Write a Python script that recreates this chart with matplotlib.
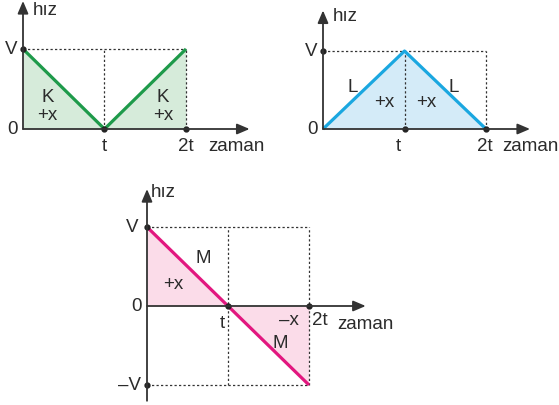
import matplotlib.pyplot as plt

plt.rcParams['font.family'] = ['Liberation Sans', 'DejaVu Sans']

# time points (in units of t) and velocities (in units of V)
times = [0, 1, 2]
speed_K = [1, 0, 1]
speed_L = [0, 1, 0]
speed_M = [1, 0, -1]

time_labels = ["t", "2t"]
axis_x = "zaman"
axis_y = "hız"

text_col = "#2b2b2b"
axis_col = "#333333"

fig = plt.figure(figsize=(5.59, 4.06), dpi=100)


def panel(x0, y0, tpx, vpx):
    # one axes covering the whole figure, data origin at pixel (x0, y0)
    ax = fig.add_axes([0, 0, 1, 1])
    ax.set_xlim(-x0 / tpx, (559 - x0) / tpx)
    ax.set_ylim((y0 - 406) / vpx, y0 / vpx)
    ax.axis("off")
    ax.patch.set_alpha(0)
    return ax


def axes_arrows(ax, xend, ytop, ybot=0):
    ap = dict(arrowstyle="-|>,head_length=0.75,head_width=0.32", color=axis_col, lw=1.3,
              shrinkA=0, shrinkB=0)
    ax.annotate("", xy=(xend, 0), xytext=(0, 0), arrowprops=ap)
    ax.annotate("", xy=(0, ytop), xytext=(0, ybot), arrowprops=ap)


def dashes(ax, segs):
    for (xa, ya), (xb, yb) in segs:
        ax.plot([xa, xb], [ya, yb], color="#333333", lw=0.9, ls=(0, (1.8, 1.8)))


fs = 13.5

# ---- panel K
ax1 = panel(23, 130, 81.5, 80)
ax1.fill_between(times, speed_K, 0, color="#d6ebda", lw=0)
dashes(ax1, [((0, 1), (2, 1)), ((1, 0), (1, 1)), ((2, 0), (2, 1))])
axes_arrows(ax1, 2.78, 1.6)
ax1.plot(times, speed_K, color="#1e9a4a", lw=2.3, solid_capstyle="butt")
ax1.plot([0, 1, 2], [1, 0, 0], "o", color="#222222", ms=3.5)
ax1.text(-0.07, 1, "V", ha="right", va="center", fontsize=fs, color=text_col)
ax1.text(-0.07, 0, "0", ha="right", va="center", fontsize=fs, color=text_col)
ax1.text(1, -0.1, time_labels[0], ha="center", va="top", fontsize=fs, color=text_col)
ax1.text(2, -0.1, time_labels[1], ha="center", va="top", fontsize=fs, color=text_col)
ax1.text(2.27, -0.1, axis_x, ha="left", va="top", fontsize=fs, color=text_col)
ax1.text(0.12, 1.5, axis_y, ha="left", va="center", fontsize=fs, color=text_col)
for xc in [0.3, 1.72]:
    ax1.text(xc, 0.4, "K", ha="center", va="center", fontsize=fs, color=text_col)
    ax1.text(xc, 0.18, "+x", ha="center", va="center", fontsize=fs, color=text_col)

# ---- panel L
ax2 = panel(323, 130, 81.5, 78)
ax2.fill_between(times, speed_L, 0, color="#d4ebf8", lw=0)
dashes(ax2, [((0, 1), (2, 1)), ((1, 0), (1, 1)), ((2, 0), (2, 1))])
axes_arrows(ax2, 2.54, 1.52)
ax2.plot(times, speed_L, color="#1aa7e0", lw=2.3, solid_capstyle="butt")
ax2.plot([0, 1, 2], [1, 0, 0], "o", color="#222222", ms=3.5)
ax2.text(-0.07, 1, "V", ha="right", va="center", fontsize=fs, color=text_col)
ax2.text(-0.07, 0, "0", ha="right", va="center", fontsize=fs, color=text_col)
ax2.text(0.93, -0.1, time_labels[0], ha="center", va="top", fontsize=fs, color=text_col)
ax2.text(1.98, -0.1, time_labels[1], ha="center", va="top", fontsize=fs, color=text_col)
ax2.text(2.2, -0.1, axis_x, ha="left", va="top", fontsize=fs, color=text_col)
ax2.text(0.12, 1.45, axis_y, ha="left", va="center", fontsize=fs, color=text_col)
ax2.text(0.37, 0.55, "L", ha="center", va="center", fontsize=fs, color=text_col)
ax2.text(1.6, 0.55, "L", ha="center", va="center", fontsize=fs, color=text_col)
ax2.text(0.75, 0.35, "+x", ha="center", va="center", fontsize=fs, color=text_col)
ax2.text(1.27, 0.35, "+x", ha="center", va="center", fontsize=fs, color=text_col)

# ---- panel M
ax3 = panel(147, 307, 81, 79)
ax3.fill_between(times, speed_M, 0, color="#fbdce9", lw=0)
dashes(ax3, [((0, 1), (2, 1)), ((0, -1), (2, -1)), ((1, -1), (1, 1)), ((2, -1), (2, 1))])
axes_arrows(ax3, 2.7, 1.48, -1.2)
ax3.plot(times, speed_M, color="#e2177f", lw=2.3, solid_capstyle="butt")
ax3.plot([0, 1, 2, 0], [1, 0, 0, -1], "o", color="#222222", ms=3.5)
ax3.text(-0.1, 1, "V", ha="right", va="center", fontsize=fs, color=text_col)
ax3.text(-0.07, 0, "0", ha="right", va="center", fontsize=fs, color=text_col)
ax3.text(-0.07, -1, "\u2013V", ha="right", va="center", fontsize=fs, color=text_col)
ax3.text(0.93, -0.1, time_labels[0], ha="center", va="top", fontsize=fs, color=text_col)
ax3.text(2.04, -0.06, time_labels[1], ha="left", va="top", fontsize=fs, color=text_col)
ax3.text(2.35, -0.12, axis_x, ha="left", va="top", fontsize=fs, color=text_col)
ax3.text(0.05, 1.45, axis_y, ha="left", va="center", fontsize=fs, color=text_col)
ax3.text(0.7, 0.62, "M", ha="center", va="center", fontsize=fs, color=text_col)
ax3.text(0.32, 0.29, "+x", ha="center", va="center", fontsize=fs, color=text_col)
ax3.text(1.75, -0.17, "\u2013x", ha="center", va="center", fontsize=fs, color=text_col)
ax3.text(1.64, -0.46, "M", ha="center", va="center", fontsize=fs, color=text_col)

fig.savefig("out.png", dpi=100)
